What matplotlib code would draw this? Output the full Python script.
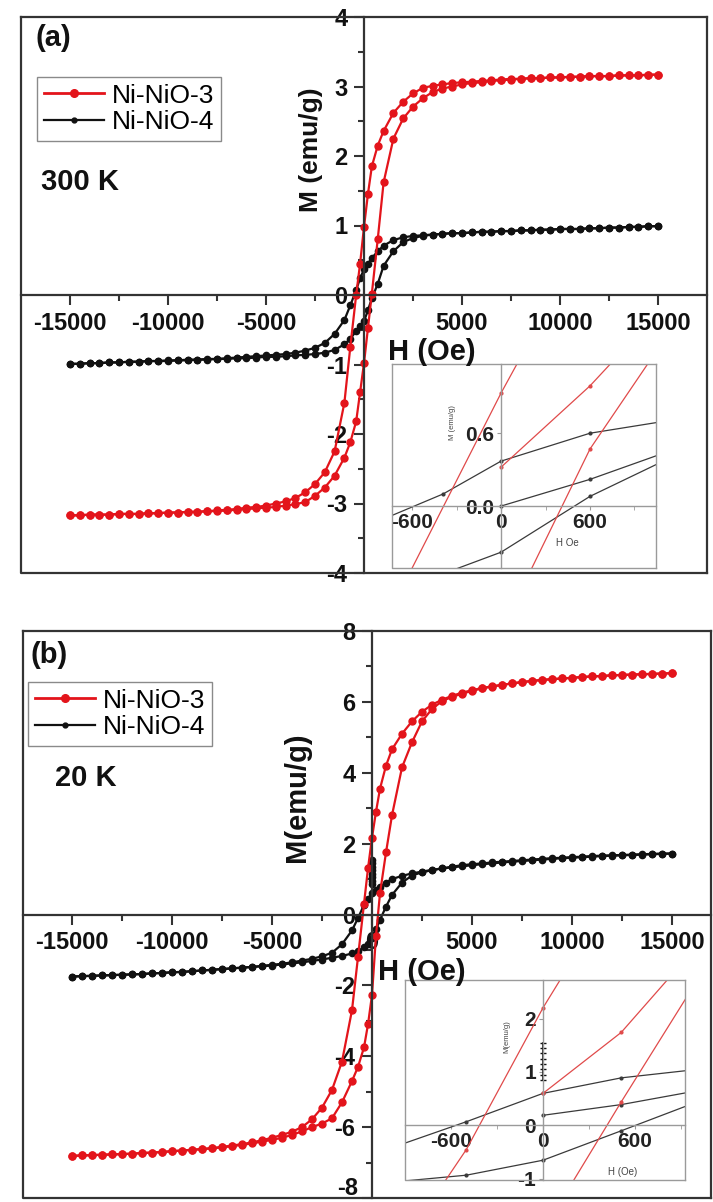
import matplotlib
matplotlib.use("Agg")
import matplotlib.pyplot as plt
from matplotlib.lines import Line2D

plt.rcParams['font.family'] = ['Liberation Sans', 'DejaVu Sans']

## field sweep (Oe), 15 kOe -> -15 kOe
h_down = [15000, 14500, 14000, 13500, 13000, 12500, 12000, 11500, 11000, 10500,
          10000, 9500, 9000, 8500, 8000, 7500, 7000, 6500, 6000, 5500,
          5000, 4500, 4000, 3500, 3000, 2500, 2000, 1500, 1000, 700,
          400, 200, 0, -200, -400, -700, -1000, -1500, -2000, -2500,
          -3000, -3500, -4000, -4500, -5000, -5500, -6000, -6500, -7000, -7500,
          -8000, -8500, -9000, -9500, -10000, -10500, -11000, -11500, -12000, -12500,
          -13000, -13500, -14000, -14500, -15000]
# return sweep uses the same field points
h_up = h_down[::-1]

## 300 K
red300_down = [3.17, 3.17, 3.16, 3.16, 3.16, 3.15, 3.15, 3.15, 3.14, 3.14,
               3.13, 3.13, 3.12, 3.12, 3.11, 3.11, 3.10, 3.09, 3.08, 3.07,
               3.06, 3.05, 3.03, 3.01, 2.98, 2.90, 2.78, 2.62, 2.36, 2.15,
               1.85, 1.45, 0.98, 0.45, 0.00, -0.75, -1.55, -2.25, -2.55, -2.72,
               -2.84, -2.92, -2.97, -3.00, -3.03, -3.05, -3.06, -3.08, -3.09, -3.10,
               -3.11, -3.12, -3.12, -3.13, -3.13, -3.14, -3.14, -3.15, -3.15, -3.15,
               -3.16, -3.16, -3.16, -3.17, -3.17]
red300_up = [-3.17, -3.17, -3.16, -3.16, -3.16, -3.15, -3.15, -3.15, -3.14, -3.14,
             -3.13, -3.13, -3.12, -3.12, -3.11, -3.11, -3.10, -3.09, -3.08, -3.07,
             -3.06, -3.05, -3.03, -3.01, -2.98, -2.89, -2.77, -2.60, -2.34, -2.12,
             -1.82, -1.40, -0.98, -0.48, 0.02, 0.80, 1.62, 2.25, 2.54, 2.71,
             2.83, 2.92, 2.97, 3.00, 3.03, 3.05, 3.06, 3.08, 3.09, 3.10,
             3.11, 3.12, 3.12, 3.13, 3.13, 3.14, 3.14, 3.15, 3.15, 3.15,
             3.16, 3.16, 3.16, 3.17, 3.17]
blk300_down = [0.99, 0.99, 0.98, 0.98, 0.97, 0.97, 0.96, 0.96, 0.95, 0.95,
               0.95, 0.94, 0.94, 0.93, 0.93, 0.92, 0.92, 0.91, 0.91, 0.90,
               0.89, 0.89, 0.88, 0.87, 0.86, 0.85, 0.83, 0.79, 0.71, 0.63,
               0.53, 0.45, 0.37, 0.24, 0.07, -0.15, -0.36, -0.56, -0.69, -0.76,
               -0.80, -0.83, -0.85, -0.86, -0.87, -0.88, -0.89, -0.90, -0.91, -0.92,
               -0.92, -0.93, -0.93, -0.94, -0.94, -0.95, -0.95, -0.96, -0.96, -0.97,
               -0.97, -0.98, -0.98, -0.99, -0.99]
blk300_up = [-0.99, -0.99, -0.98, -0.98, -0.97, -0.97, -0.96, -0.96, -0.95, -0.95,
             -0.95, -0.94, -0.94, -0.93, -0.93, -0.92, -0.92, -0.91, -0.91, -0.90,
             -0.89, -0.89, -0.88, -0.87, -0.86, -0.85, -0.83, -0.79, -0.71, -0.63,
             -0.52, -0.45, -0.38, -0.22, -0.05, 0.16, 0.42, 0.63, 0.76, 0.82,
             0.85, 0.87, 0.88, 0.89, 0.89, 0.90, 0.91, 0.91, 0.92, 0.92,
             0.93, 0.93, 0.94, 0.94, 0.95, 0.95, 0.95, 0.96, 0.96, 0.97,
             0.97, 0.98, 0.98, 0.99, 0.99]

## 20 K
red20_down = [6.81, 6.80, 6.79, 6.78, 6.77, 6.76, 6.75, 6.73, 6.72, 6.70,
              6.68, 6.66, 6.64, 6.62, 6.59, 6.56, 6.52, 6.48, 6.44, 6.39,
              6.33, 6.26, 6.17, 6.06, 5.92, 5.72, 5.45, 5.10, 4.66, 4.20,
              3.55, 2.90, 2.17, 1.30, 0.30, -1.20, -2.70, -4.15, -4.95, -5.45,
              -5.78, -6.00, -6.13, -6.22, -6.30, -6.37, -6.43, -6.48, -6.52, -6.56,
              -6.59, -6.62, -6.64, -6.66, -6.68, -6.70, -6.72, -6.73, -6.75, -6.76,
              -6.77, -6.78, -6.79, -6.80, -6.81]
red20_up = [-6.81, -6.80, -6.79, -6.78, -6.77, -6.76, -6.75, -6.73, -6.72, -6.70,
            -6.68, -6.66, -6.64, -6.62, -6.60, -6.57, -6.54, -6.50, -6.46, -6.41,
            -6.36, -6.30, -6.22, -6.12, -6.00, -5.90, -5.75, -5.30, -4.70, -4.30,
            -3.75, -3.10, -2.27, -0.60, 0.60, 1.75, 2.80, 4.15, 4.86, 5.45,
            5.80, 6.02, 6.14, 6.23, 6.31, 6.38, 6.43, 6.48, 6.52, 6.56,
            6.59, 6.62, 6.64, 6.66, 6.68, 6.70, 6.72, 6.73, 6.75, 6.76,
            6.77, 6.78, 6.79, 6.80, 6.81]
blk20_down = [1.72, 1.71, 1.70, 1.69, 1.68, 1.67, 1.66, 1.65, 1.63, 1.62,
              1.60, 1.59, 1.57, 1.55, 1.53, 1.51, 1.49, 1.47, 1.44, 1.42,
              1.39, 1.36, 1.33, 1.30, 1.26, 1.21, 1.16, 1.09, 1.00, 0.90,
              0.79, 0.70, 0.60, 0.45, 0.27, -0.10, -0.45, -0.84, -1.08, -1.18,
              -1.25, -1.30, -1.35, -1.39, -1.42, -1.45, -1.48, -1.50, -1.52, -1.54,
              -1.56, -1.58, -1.60, -1.62, -1.63, -1.65, -1.66, -1.68, -1.69, -1.70,
              -1.71, -1.72, -1.73, -1.74, -1.75]
blk20_up = [-1.75, -1.74, -1.73, -1.72, -1.71, -1.70, -1.69, -1.68, -1.66, -1.65,
            -1.63, -1.62, -1.60, -1.58, -1.56, -1.54, -1.52, -1.50, -1.48, -1.46,
            -1.44, -1.41, -1.38, -1.35, -1.31, -1.27, -1.22, -1.17, -1.10, -1.04,
            -0.93, -0.82, -0.65, -0.42, -0.15, 0.22, 0.55, 0.90, 1.10, 1.19,
            1.25, 1.30, 1.35, 1.39, 1.42, 1.44, 1.47, 1.49, 1.51, 1.53,
            1.55, 1.57, 1.59, 1.60, 1.62, 1.63, 1.65, 1.66, 1.67, 1.68,
            1.69, 1.70, 1.71, 1.72, 1.72]
# cluster of Ni-NiO-4 points recorded at zero field
spike_h = [0, 0, 0, 0, 0, 0, 0, 0]
spike_m = [0.85, 0.95, 1.05, 1.15, 1.25, 1.35, 1.45, 1.55]

## low-field close-ups (segments: H list, M list)
zoom300_red = [([-620, 0, 130], [-0.56, 0.93, 1.22]),
               ([0, 600, 760], [0.32, 0.99, 1.20]),
               ([200, 600, 1000], [-0.53, 0.47, 1.19])]
zoom300_blk = [([-760, -390, 0, 600, 1060], [-0.09, 0.10, 0.37, 0.60, 0.69]),
               ([0, 600, 1060], [0.00, 0.22, 0.42]),
               ([-330, 0, 600, 1060], [-0.53, -0.38, 0.08, 0.35])]
zoom20_red = [([-700, -500, 0, 150], [-1.30, -0.45, 2.20, 2.90]),
              ([0, 510, 850], [0.60, 1.74, 2.85]),
              ([180, 510, 950], [-1.12, 0.44, 2.46])]
zoom20_blk = [([-950, -500, 0, 510, 950], [-0.38, 0.07, 0.60, 0.89, 1.03]),
              ([0, 510, 950], [0.19, 0.39, 0.62]),
              ([-950, -500, 0, 510, 950], [-1.05, -0.93, -0.65, -0.10, 0.38])]

labels = ['Ni-NiO-3', 'Ni-NiO-4']
RED = '#e3141b'
BLK = '#111111'
FRAME = '#333333'

W, H = 713, 1202
fig = plt.figure(figsize=(W / 100, H / 100), dpi=100)


def fpos(x, y):
    return x / W, 1 - y / H


def frame(ax, color, lw):
    # centred axes plus a closed box round the panel
    ax.spines['left'].set_position(('data', 0))
    ax.spines['bottom'].set_position(('data', 0))
    for s in ax.spines.values():
        s.set_color(color)
        s.set_linewidth(lw)
    ax.plot([0, 0, 1], [1, 0, 0], transform=ax.transAxes, color=color,
            lw=lw, clip_on=False, zorder=5)


def main_panel(ax, xlim, ylim, xt, yt, ytl, ymin, loops):
    ax.set_xlim(xlim)
    ax.set_ylim(ylim)
    frame(ax, FRAME, 1.6)
    ax.set_xticks(xt, [str(v) for v in xt], fontweight='bold')
    ax.set_xticks([-12500, -7500, -2500, 2500, 7500, 12500], minor=True)
    ax.set_yticks(yt, ytl, fontweight='bold')
    ax.set_yticks(ymin, minor=True)
    ax.tick_params(which='both', direction='out', width=1.5, colors=FRAME,
                   labelcolor='#111111', labelsize=17)
    ax.tick_params(which='major', length=7, pad=5)
    ax.tick_params(which='minor', length=4)
    for hh, mm, col, ms in loops:
        ax.plot(hh, mm, color=col, lw=1.6, marker='o', ms=ms, mec=col, mfc=col)


def inset(rect, xlim, ylim, yt, ytl, reds, blks, extra=None):
    ins = fig.add_axes(rect)
    ins.set_facecolor('white')
    ins.set_xlim(xlim)
    ins.set_ylim(ylim)
    frame(ins, '#9a9a9a', 1.0)
    ins.set_xticks([-600, 0, 600], ['-600', '0', '600'], fontweight='bold')
    ins.set_xticks([-300, 300, 900], minor=True)
    ins.set_yticks(yt, ytl, fontweight='bold')
    ins.tick_params(which='both', direction='out', colors='#9a9a9a',
                    labelcolor='#222222', labelsize=15, length=3, pad=2)
    for hh, mm in blks:
        ins.plot(hh, mm, color='#3a3a3a', lw=0.9, marker='o', ms=2)
    for hh, mm in reds:
        ins.plot(hh, mm, color='#e04a4a', lw=0.9, marker='o', ms=2)
    if extra:
        ins.plot(extra[0], extra[1], color=BLK, lw=1.2, marker='_', ms=4)
    return ins


## (a) 300 K
ax_a = fig.add_axes([21 / W, 1 - 573 / H, 686 / W, 556 / H])
yt_a = [-4, -3, -2, -1, 0, 1, 2, 3, 4]
main_panel(ax_a, (-17500, 17500), (-4, 4),
           [-15000, -10000, -5000, 5000, 10000, 15000],
           yt_a, [str(v) for v in yt_a],
           [-3.5, -2.5, -1.5, -0.5, 0.5, 1.5, 2.5, 3.5],
           [(h_down, blk300_down, BLK, 4.5), (h_up, blk300_up, BLK, 4.5),
            (h_down, red300_down, RED, 5), (h_up, red300_up, RED, 5)])

## (b) 20 K
ax_b = fig.add_axes([23 / W, 1 - 1198 / H, 688 / W, 567 / H])
yt_b = [-8, -6, -4, -2, 0, 2, 4, 6, 8]
# bottom label is written separately so it stays on the page
main_panel(ax_b, (-17450, 16950), (-8, 8),
           [-15000, -10000, -5000, 0, 5000, 10000, 15000],
           yt_b, [''] + [str(v) for v in yt_b[1:]],
           [-7, -5, -3, -1, 1, 3, 5, 7],
           [(h_down, blk20_down, BLK, 4.5), (h_up, blk20_up, BLK, 4.5),
            (spike_h, spike_m, BLK, 4.5),
            (h_down, red20_down, RED, 5), (h_up, red20_up, RED, 5)])

for ax, anchor in ((ax_a, fpos(37, 77)), (ax_b, fpos(28, 682))):
    handles = [Line2D([], [], color=RED, lw=2, marker='o', ms=5.5),
               Line2D([], [], color=BLK, lw=1.6, marker='o', ms=3.5)]
    ax.legend(handles, labels, loc='upper left', bbox_to_anchor=anchor,
              bbox_transform=fig.transFigure, fontsize=19, frameon=True,
              fancybox=False, edgecolor='#8a8a8a', framealpha=1, numpoints=1,
              borderpad=0.25, labelspacing=0.1, handlelength=2.3,
              handletextpad=0.3, borderaxespad=0)

## panel texts
bold = dict(fontweight='bold', color='#111111')
fig.text(*fpos(53, 38), '(a)', fontsize=21, ha='center', va='center', **bold)
fig.text(*fpos(80, 182), '300 K', fontsize=21, ha='center', va='center', **bold)
fig.text(*fpos(311, 150), 'M (emu/g)', fontsize=19, rotation=90,
         ha='center', va='center', **bold)
fig.text(*fpos(432, 352), 'H (Oe)', fontsize=21, ha='center', va='center', **bold)
fig.text(*fpos(49, 655), '(b)', fontsize=21, ha='center', va='center', **bold)
fig.text(*fpos(86, 778), '20 K', fontsize=21, ha='center', va='center', **bold)
fig.text(*fpos(297, 797), 'M(emu/g)', fontsize=21, rotation=90,
         ha='center', va='center', **bold)
fig.text(*fpos(422, 972), 'H (Oe)', fontsize=21, ha='center', va='center', **bold)
fig.text(*fpos(358, 1200), '-8', fontsize=17, ha='right', va='bottom', **bold)

## low-field insets
inset([392 / W, 1 - 568 / H, 264 / W, 204 / H], (-735, 1045), (-0.51, 1.17),
      [0.0, 0.6], ['0.0', '0.6'], zoom300_red, zoom300_blk)
fig.text(*fpos(452, 423), 'M (emu/g)', fontsize=5.5, rotation=90,
         ha='center', va='center', color='#444444')
fig.text(*fpos(567, 543), 'H Oe', fontsize=7, ha='center', va='center',
         color='#444444')

inset([405 / W, 1 - 1180 / H, 280 / W, 200 / H], (-900, 926), (-1.02, 2.72),
      [-1, 0, 1, 2], ['-1', '0', '1', '2'], zoom20_red, zoom20_blk,
      extra=(spike_h, spike_m))
fig.text(*fpos(507, 1037), 'M(emu/g)', fontsize=5.5, rotation=90,
         ha='center', va='center', color='#444444')
fig.text(*fpos(623, 1172), 'H (Oe)', fontsize=7, ha='center', va='center',
         color='#444444')

fig.savefig('out.png', dpi=100)
